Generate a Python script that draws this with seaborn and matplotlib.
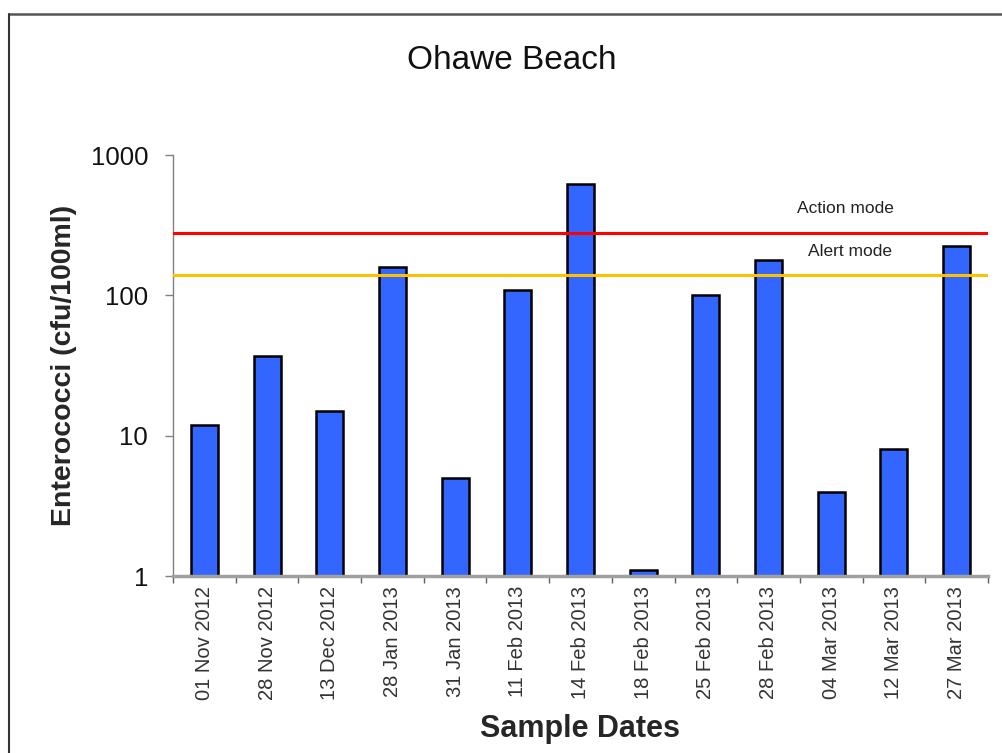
import numpy as np
import pandas as pd
import seaborn as sns
import matplotlib.pyplot as plt
from matplotlib.lines import Line2D

# data
dates = ['01 Nov 2012', '28 Nov 2012', '13 Dec 2012', '28 Jan 2013', '31 Jan 2013',
         '11 Feb 2013', '14 Feb 2013', '18 Feb 2013', '25 Feb 2013', '28 Feb 2013',
         '04 Mar 2013', '12 Mar 2013', '27 Mar 2013']
entero = [12, 37, 15, 160, 5, 110, 620, 1.1, 100, 180, 4, 8, 225]
action_level = 280
alert_level = 140
y_ticks = [1, 10, 100, 1000]

df = pd.DataFrame({'date': dates, 'entero': entero})

sns.set_style('white')
plt.rcParams['font.family'] = ['Liberation Sans', 'DejaVu Sans']

fig = plt.figure(figsize=(10.03, 7.53), dpi=100)
ax = fig.add_axes([0.1725, 0.235, 0.8125, 0.559])
ax.set_yscale('log')

sns.barplot(data=df, x='date', y='entero', order=dates, color='#3366FF',
            saturation=1, width=0.43, edgecolor='black', linewidth=1.8, ax=ax)

# guideline levels
ax.axhline(action_level, color='#FF0000', lw=2.2, zorder=3)
ax.axhline(alert_level, color='#FFC000', lw=2.2, zorder=3)
ax.text(0.825, 0.874, 'Action mode', transform=ax.transAxes, ha='center', va='center',
        fontsize=12.5, color='#222222')
ax.text(0.831, 0.772, 'Alert mode', transform=ax.transAxes, ha='center', va='center',
        fontsize=12.5, color='#222222')

ax.set_ylim(1, 1000)
ax.set_xlim(-0.5, len(dates) - 0.5)
ax.set_yticks(y_ticks)
ax.set_yticklabels([str(t) for t in y_ticks])
ax.yaxis.set_minor_locator(plt.NullLocator())
ax.tick_params(axis='y', which='major', left=True, length=6, width=1, color='#808080',
               pad=12, labelsize=18.5, labelcolor='#111111')

# labels at bar centres, tick marks at category boundaries
ax.set_xticks(range(len(dates)))
ax.set_xticklabels(dates, rotation=90)
ax.set_xticks(np.arange(-0.5, len(dates)), minor=True)
ax.tick_params(axis='x', which='major', length=0, pad=7, labelsize=14.5, labelcolor='#333333')
ax.tick_params(axis='x', which='minor', bottom=True, length=5, width=1, color='#606060')

for s in ['top', 'right']:
    ax.spines[s].set_visible(False)
ax.spines['left'].set_color('#808080')
ax.spines['left'].set_linewidth(1)
ax.spines['bottom'].set_color('#A0A0A0')
ax.spines['bottom'].set_linewidth(2.5)

ax.set_xlabel('Sample Dates', fontsize=22, fontweight='bold', labelpad=10)
ax.set_ylabel('Enterococci (cfu/100ml)', fontsize=20.5, fontweight='bold', labelpad=10)
fig.text(0.51, 0.919, 'Ohawe Beach', ha='center', va='center', fontsize=24, color='#111111')

# frame round the chart area (top and left edges visible)
fig.add_artist(Line2D([9 / 1003, 1], [1 - 14 / 753, 1 - 14 / 753], transform=fig.transFigure,
                      color='#555555', lw=1.8))
fig.add_artist(Line2D([9 / 1003, 9 / 1003], [0, 1 - 14 / 753], transform=fig.transFigure,
                      color='#333333', lw=1.5))

fig.savefig('out.png', dpi=100)
